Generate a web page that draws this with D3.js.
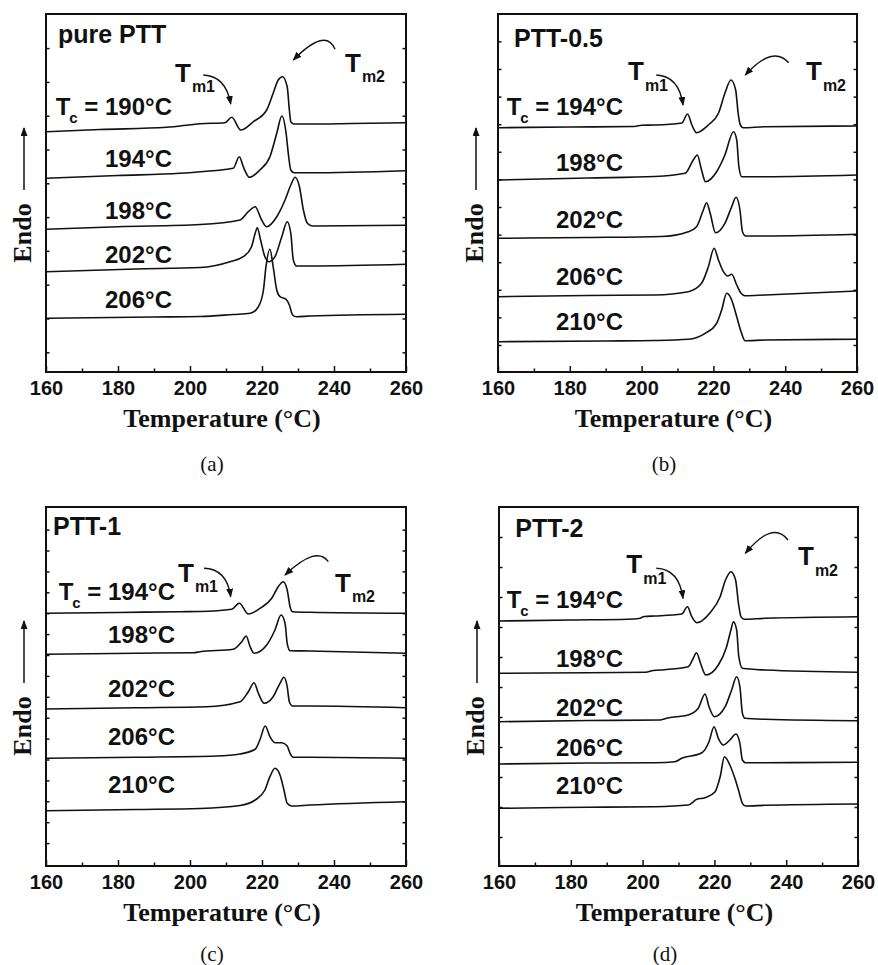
<!DOCTYPE html>
<html>
<head>
<meta charset="utf-8">
<script src="https://cdn.jsdelivr.net/npm/d3@7"></script>
<style>
  body { margin: 0; background: #fff; }
</style>
</head>
<body>
<script>
'use strict';

// x axis (temperature) tick values
var xTicks = [160, 180, 200, 220, 240, 260];
var xMinorTicks = [170, 190, 210, 230, 250];
var xDomain = [160, 260];

var panelCaptions = ['(a)', '(b)', '(c)', '(d)'];
var panelTitles = ['pure PTT', 'PTT-0.5', 'PTT-1', 'PTT-2'];

// crystallization temperatures, top curve first
var crystTemps = [
  [190, 194, 198, 202, 206],
  [194, 198, 202, 206, 210],
  [194, 198, 202, 206, 210],
  [194, 198, 202, 206, 210]
];

// DSC melting traces: [temperature (°C), endo signal (a.u.)]
var curvesPure = [
  [[160,240.3],[175,242.5],[193.5,244.7],[202.8,248.3],[209.7,249.3],[211.6,254.7],[214.1,242],[217.6,250.3],[221.3,262],[223.1,278.7],[224.5,292],[225.7,295.3],[227.0,285.3],[227.6,262],[228.0,250.3],[228.9,248],[233.3,248],[245,248.5],[260,249.3]],
  [[160,193.7],[180,196.5],[197.2,198.7],[202.8,200.3],[212.0,203.7],[213.7,215.3],[214.8,205.3],[216.5,194.7],[219.4,202],[222.2,215.3],[224.1,238.7],[225.5,256],[226.7,238.7],[227.3,218.7],[228.0,202],[228.9,199.3],[233.3,199.3],[260,201.3]],
  [[160,142.7],[180,145.3],[202.8,147.5],[213.9,152],[216.2,160.3],[218.1,165.3],[219.9,152],[221.3,145.3],[224.1,155.3],[226.4,172],[228.0,187],[229.2,194.7],[230.4,185.3],[231.5,162],[232.6,148.7],[234,146],[260,146.7]],
  [[160,100.3],[185,103],[202.8,104.5],[211.1,110.3],[214.8,115.3],[217.1,125.3],[218.1,138.7],[218.7,144.3],[219.6,132],[220.8,115.3],[222.0,110.3],[223.6,115.3],[225.5,135.3],[227.0,150.3],[228.0,138.7],[228.7,112],[229.6,106],[233.3,106],[260,107.7]],
  [[160,53.7],[190,55],[202.8,55.5],[212,57.5],[216.7,58.7],[219.0,65.3],[220.4,82],[221.1,105.3],[222.2,122.7],[223.1,105.3],[224.1,82],[225.0,75.3],[226.7,72.7],[227.6,67],[228.5,57],[229.6,55.3],[233.3,56],[260,57.7]]
];

var curves05 = [
  [[160,244.3],[180,245],[198,245.5],[200,246.8],[203.7,247],[211.2,249],[212.8,258],[214.0,247],[215.3,239.3],[218.6,247],[221.4,258.7],[223.2,278.7],[224.9,292],[226.2,282],[226.9,258.7],[227.5,247],[228.3,244.3],[234.4,245.3],[260,246]],
  [[160,192],[185,194],[203.7,195.5],[212.1,198.7],[214.4,212],[215.5,217],[216.7,202],[217.8,190.3],[220.9,200.3],[223.2,217],[225.6,240.3],[226.5,232],[227.1,205.3],[227.9,195.3],[234.4,195.3],[260,197]],
  [[160,133.7],[185,134.5],[205.5,135.5],[213.0,140.3],[215.3,145.3],[217.2,162],[218.1,169.3],[219.1,158.7],[220.6,139.3],[223.2,148.7],[225.1,165.3],[226.3,174.7],[227.4,162],[228.1,140.3],[229.0,136],[234.4,136],[260,137.7]],
  [[160,75.3],[185,76.5],[203.7,77],[213.0,80.3],[216.7,88.7],[218.6,105.3],[220.2,123.7],[221.4,112],[222.8,100.3],[224.0,96],[225.1,97.7],[226.5,87],[227.7,78.7],[228.8,76.3],[234.4,77],[260,81]],
  [[160,30.3],[190,31],[203.7,31.5],[213.0,32.7],[217.7,38.7],[220.9,48.7],[222.3,62],[223.7,78.7],[224.9,73.7],[226.5,55.3],[227.7,40.3],[228.8,31.3],[234.4,32],[260,32.7]]
];

var curves1 = [
  [[160,252.7],[180,253.5],[197.2,254.3],[202.8,254.5],[211.6,256.7],[213.7,262.7],[216.2,252],[219.9,258.7],[222.7,267.7],[224.5,279.3],[225.9,284.3],[227.0,276],[227.8,259.3],[228.5,254.3],[233.3,253.7],[260,252.7]],
  [[160,211.7],[185,212.8],[200.9,213.3],[202.8,214.3],[212.0,216.7],[214.4,224.3],[215.6,230],[216.7,219.3],[217.8,212.7],[221.3,221],[223.6,236],[225.3,251],[226.4,242.7],[227.0,222.7],[227.8,215.3],[233.3,215],[260,212.7]],
  [[160,157],[185,158.3],[204.6,159.3],[213.9,164.3],[216.2,174.3],[217.8,183.3],[219.0,172.7],[220.6,162.7],[223.1,169.3],[225.0,182.7],[226.1,188.7],[227.0,179.3],[227.6,164.3],[228.5,160],[233.3,160],[260,158.3]],
  [[160,107.7],[185,108.8],[207.4,110],[213.9,112],[218.1,116.7],[219.4,126],[220.9,140],[222.2,129.3],[223.6,123.3],[225.5,123.3],[227.0,120],[227.8,112.7],[228.7,108.7],[233.3,108.7],[260,107.7]],
  [[160,55.3],[185,56.5],[202.8,57.5],[213.9,60.5],[218.1,66],[220.8,76],[222.2,89.3],[223.6,97.7],[225.0,91],[226.1,76],[227.0,62.7],[228.2,60],[233.3,61],[260,64.3]]
];

var curves2 = [
  [[160,245],[180,246],[195.9,246.7],[199,247.5],[200.5,249.5],[203.5,250],[210.9,252],[212.5,259.3],[213.7,249.3],[215.1,243.3],[218.8,253.3],[221.6,269.3],[223.1,286],[224.6,294.3],[225.9,286],[226.7,262.7],[227.4,249.3],[228.3,246.7],[234.1,247.7],[260,249.3]],
  [[160,192.7],[185,193.3],[200.8,193.7],[203,195.5],[206,196.3],[212.7,199.3],[214.1,207.7],[215.0,213.3],[216.3,201],[217.6,191],[221.1,201],[223.4,219.3],[224.6,236],[225.3,244.3],[226.2,236],[226.8,209.3],[227.8,197.7],[234.1,196],[260,193.7]],
  [[160,144.3],[185,145.5],[205,146],[207,148],[212.7,151],[215.5,157.7],[217.4,172],[218.5,159.3],[220.0,149.3],[223.0,159.3],[224.8,176],[226.2,189.3],[227.1,179.3],[227.8,152.7],[228.5,147.7],[234.1,146.7],[260,145.3]],
  [[160,102],[185,103],[203.5,103.3],[209,104.3],[210.9,107.7],[216.5,113.3],[218.5,124.3],[219.9,139.3],[221.1,127.7],[222.5,121],[224.3,126],[226.0,132],[227.1,122.7],[227.8,106],[228.7,103.3],[234.1,103.3],[260,103.7]],
  [[160,57.7],[185,58.7],[203.5,59.3],[212.7,61],[215.1,66.7],[217.4,68.3],[220.2,74.3],[221.6,89.3],[222.8,109.3],[224.3,101],[225.7,87.7],[226.7,76],[227.8,62.7],[228.7,60],[234.1,60.7],[260,62]]
];

var allCurves = [curvesPure, curves05, curves1, curves2];

// where each panel sits and where its annotations go (relative to the plot box)
var layout = [
  {left: 46, top: 14, w: 360, h: 358, yTick0: 19.7, yStep: 33.8, capDy: 99,
   title: [12, 29], tcX: 126, tcY: [101, 152.7, 205.3, 249.3, 294.3],
   tm1: [129, 67.7], tm1Arrow: [157.3, 61, 180, 62, 184.7, 90],
   tm2: [299, 57.7], tm2Arrow: [289, 35.3, 279.9, 12.8, 247.3, 46]},
  {left: 498, top: 14, w: 359, h: 358, yTick0: 27, yStep: 27.6, capDy: 99,
   title: [16, 32.7], tcX: 125, tcY: [101, 156.7, 214.3, 271, 316],
   tm1: [130, 66], tm1Arrow: [158.3, 61, 181, 62, 185, 91],
   tm2: [308, 66], tm2Arrow: [290.7, 48.7, 274.8, 30.6, 247.3, 61]},
  {left: 46, top: 507, w: 360, h: 359, yTick0: 22.9, yStep: 20.9, capDy: 95,
   title: [7, 28], tcX: 129, tcY: [93, 136.3, 189.7, 238, 285.7],
   tm1: [132, 74.7], tm1Arrow: [158, 61.3, 181, 62, 184.7, 89.7],
   tm2: [289, 84.7], tm2Arrow: [282.3, 54.7, 270.8, 38, 239, 68]},
  {left: 499, top: 507, w: 359, h: 359, yTick0: 29, yStep: 30, capDy: 95,
   title: [16.3, 29.7], tcX: 124, tcY: [101.3, 160.3, 209, 249, 287],
   tm1: [127.3, 66.3], tm1Arrow: [157.3, 61.3, 180, 62, 184, 91.3],
   tm2: [299, 58], tm2Arrow: [289, 33, 273.8, 13, 246.3, 46.3]}
];

var sansFont = "'Liberation Sans', Arial, Helvetica, sans-serif";
var serifFont = "'Liberation Serif', 'Times New Roman', serif";
var ink = '#111';

var svg = d3.select('body').append('svg')
  .attr('width', 878)
  .attr('height', 965)
  .style('font-family', sansFont);

svg.append('defs').append('marker')
  .attr('id', 'head')
  .attr('markerUnits', 'userSpaceOnUse')
  .attr('markerWidth', 10)
  .attr('markerHeight', 8)
  .attr('refX', 8)
  .attr('refY', 3.5)
  .attr('orient', 'auto')
  .append('path')
  .attr('d', 'M0,0 L9,3.5 L0,7 Z')
  .attr('fill', ink);

layout.forEach(function(p, i) {
  var x = d3.scaleLinear().domain(xDomain).range([0, p.w]);
  var y = d3.scaleLinear().domain([0, p.h]).range([p.h, 0]);
  var yTicks = d3.range(p.yTick0, p.h - 4, p.yStep);

  var g = svg.append('g').attr('transform', 'translate(' + p.left + ',' + p.top + ')');

  // inward ticks, no domain path (the box is drawn separately)
  function tidy(sel) {
    sel.select('.domain').remove();
    sel.selectAll('line').attr('stroke', ink).attr('stroke-width', 1.5);
  }
  var xAxis = g.append('g')
    .attr('transform', 'translate(0,' + p.h + ')')
    .call(d3.axisBottom(x).tickValues(xTicks).tickSizeInner(-6).tickSizeOuter(0).tickPadding(9).tickFormat(d3.format('d')))
    .call(tidy);
  xAxis.selectAll('text')
    .attr('fill', ink)
    .style('font-family', sansFont)
    .style('font-weight', 'bold')
    .style('font-size', '20px');
  g.append('g')
    .attr('transform', 'translate(0,' + p.h + ')')
    .call(d3.axisBottom(x).tickValues(xMinorTicks).tickSizeInner(-3.5).tickSizeOuter(0).tickFormat(''))
    .call(tidy);
  g.append('g')
    .call(d3.axisLeft(y).tickValues(yTicks).tickSizeInner(-3.5).tickSizeOuter(0).tickFormat(''))
    .call(tidy);
  g.append('g')
    .attr('transform', 'translate(' + p.w + ',0)')
    .call(d3.axisRight(y).tickValues(yTicks).tickSizeInner(-3.5).tickSizeOuter(0).tickFormat(''))
    .call(tidy);

  g.append('rect')
    .attr('width', p.w)
    .attr('height', p.h)
    .attr('fill', 'none')
    .attr('stroke', ink)
    .attr('stroke-width', 2);

  var line = d3.line()
    .x(function(d) { return x(d[0]); })
    .y(function(d) { return y(d[1]); })
    .curve(d3.curveMonotoneX);

  g.append('g').selectAll('path')
    .data(allCurves[i])
    .enter().append('path')
    .attr('d', line)
    .attr('fill', 'none')
    .attr('stroke', ink)
    .attr('stroke-width', 1.6)
    .attr('stroke-linejoin', 'round');

  // panel name
  g.append('text')
    .attr('x', p.title[0])
    .attr('y', p.title[1])
    .attr('fill', ink)
    .style('font-weight', 'bold')
    .style('font-size', '25px')
    .text(panelTitles[i]);

  // Tc labels next to each trace
  crystTemps[i].forEach(function(tc, k) {
    var t = g.append('text')
      .attr('x', p.tcX)
      .attr('y', p.tcY[k])
      .attr('text-anchor', 'end')
      .attr('fill', ink)
      .style('font-weight', 'bold')
      .style('font-size', '24px');
    if (k === 0) {
      t.append('tspan').text('T');
      t.append('tspan').attr('dx', -1).attr('dy', 8).style('font-size', '15px').text('c');
      t.append('tspan').attr('dy', -8).text(' = ' + tc + '\u00b0C');
    } else {
      t.text(tc + '\u00b0C');
    }
  });

  // Tm1 / Tm2 markers with curved arrows
  function tmLabel(pos, sub) {
    var t = g.append('text')
      .attr('x', pos[0])
      .attr('y', pos[1])
      .attr('fill', ink)
      .style('font-weight', 'bold')
      .style('font-size', '26px');
    t.append('tspan').text('T');
    t.append('tspan').attr('dx', 1).attr('dy', 10.5).style('font-size', '16px').text(sub);
  }
  tmLabel(p.tm1, 'm1');
  tmLabel(p.tm2, 'm2');

  [p.tm1Arrow, p.tm2Arrow].forEach(function(a) {
    g.append('path')
      .attr('d', 'M' + a[0] + ',' + a[1] + ' Q' + a[2] + ',' + a[3] + ' ' + a[4] + ',' + a[5])
      .attr('fill', 'none')
      .attr('stroke', ink)
      .attr('stroke-width', 1.4)
      .attr('marker-end', 'url(#head)');
  });

  // y axis label with arrow
  g.append('text')
    .attr('transform', 'translate(-15,219) rotate(-90)')
    .attr('text-anchor', 'middle')
    .attr('fill', ink)
    .style('font-family', serifFont)
    .style('font-weight', 'bold')
    .style('font-size', '26px')
    .text('Endo');
  g.append('line')
    .attr('x1', -22).attr('x2', -22)
    .attr('y1', 176).attr('y2', 114)
    .attr('stroke', ink)
    .attr('stroke-width', 1.5)
    .attr('marker-end', 'url(#head)');

  // x axis title and caption
  g.append('text')
    .attr('x', p.w / 2 - 4)
    .attr('y', p.h + 55)
    .attr('text-anchor', 'middle')
    .attr('fill', ink)
    .style('font-family', serifFont)
    .style('font-weight', 'bold')
    .style('font-size', '26px')
    .text('Temperature (\u00b0C)');
  g.append('text')
    .attr('x', 166)
    .attr('y', p.h + p.capDy)
    .attr('text-anchor', 'middle')
    .attr('fill', ink)
    .style('font-family', serifFont)
    .style('font-size', '21px')
    .text(panelCaptions[i]);
});
</script>
</body>
</html>
